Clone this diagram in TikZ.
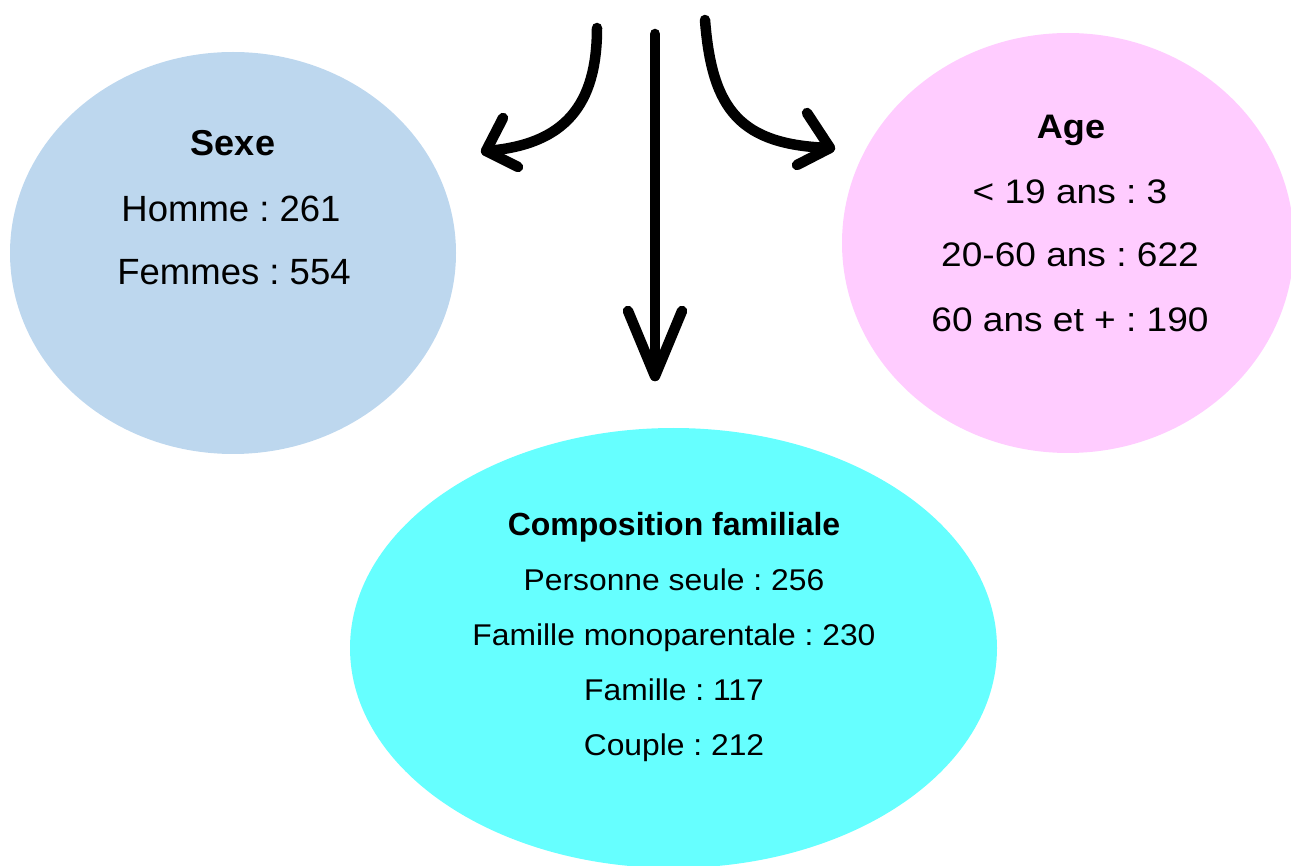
\documentclass[tikz,border=0pt]{standalone}
\usepackage{fontspec}
\setmainfont{Liberation Sans}
\usetikzlibrary{shapes.geometric}
\definecolor{sexeblue}{HTML}{BDD7EE}
\definecolor{agepink}{HTML}{FFCCFF}
\definecolor{compcyan}{HTML}{66FFFF}
\newcommand\widen[2]{\scalebox{#1}[1]{#2}}
\frenchspacing
\begin{document}
\begin{tikzpicture}[x=1pt,y=-1pt,
  blob/.style={ellipse, inner sep=0pt, draw=none},
  txt/.style={anchor=base, inner sep=0pt},
  fa/.style={font=\fontsize{36.5}{40}\selectfont},
  fab/.style={font=\fontsize{36}{40}\selectfont\bfseries},
  fb/.style={font=\fontsize{34}{38}\selectfont},
  fbb/.style={font=\fontsize{34}{38}\selectfont\bfseries},
  fc/.style={font=\fontsize{30}{34}\selectfont},
  fcb/.style={font=\fontsize{32}{36}\selectfont\bfseries},
  arr/.style={line width=10.5pt, line cap=round, line join=round, black}]
\useasboundingbox (0,0) rectangle (1291,866);
\clip (0,0) rectangle (1291,866);
% ellipses
\node[blob, fill=sexeblue, minimum width=446pt, minimum height=402pt] (sexe) at (233,253) {};
\node[blob, fill=agepink, minimum width=452pt, minimum height=420pt] (age) at (1068,243) {};
\node[blob, fill=compcyan, minimum width=647pt, minimum height=440pt] (comp) at (673.5,648) {};
% Sexe texts
\node[txt, fab] (s0) at (233,156) {Sexe};
\node[txt, fa] (s1) at (231,222) {Homme : 261};
\node[txt, fa] (s2) at (234,285) {Femmes : 554};
% Age texts
\node[txt, fbb] (a0) at (1071,139) {\widen{1.06}{Age}};
\node[txt, fb] (a1) at (1070,204) {\widen{1.09}{< 19 ans : 3}};
\node[txt, fb] (a2) at (1070,267) {\widen{1.09}{20-60 ans : 622}};
\node[txt, fb] (a3) at (1070,332) {\widen{1.09}{60 ans et + : 190}};
% Composition texts
\node[txt, fcb] (c0) at (674,535) {Composition familiale};
\node[txt, fc] (c1) at (674,590) {\widen{1.06}{Personne seule : 256}};
\node[txt, fc] (c2) at (674,645) {\widen{1.06}{Famille monoparentale : 230}};
\node[txt, fc] (c3) at (674,700) {\widen{1.06}{Famille : 117}};
\node[txt, fc] (c4) at (674,755) {\widen{1.06}{Couple : 212}};
% arrow coordinates
\coordinate (ls) at (597,28);
\coordinate (lt) at (486,151);
\coordinate (ms) at (655,34);
\coordinate (mt) at (655,376);
\coordinate (rs) at (705,20);
\coordinate (rt) at (830,148);
% arrows
\draw[arr] (ls) .. controls (597,105) and (565,145) .. (lt);
\draw[arr] (503,118) -- (lt) -- (518,167);
\draw[arr] (ms) -- (mt);
\draw[arr] (628,311) -- (mt) -- (682,311);
\draw[arr] (rs) .. controls (712,110) and (740,145) .. (rt);
\draw[arr] (807,113) -- (rt) -- (797,165);
\end{tikzpicture}
\end{document}
